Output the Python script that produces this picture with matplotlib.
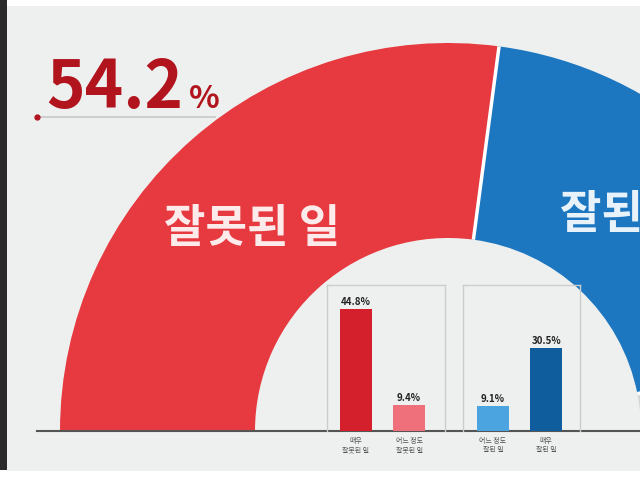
import numpy as np
import matplotlib
matplotlib.use("Agg")
import matplotlib.pyplot as plt
from matplotlib.patches import Wedge, Rectangle

plt.rcParams['font.family'] = ['Noto Sans CJK KR', 'DejaVu Sans']

# data
mainLabels = ["잘못된 일", "잘된 일", "모름"]
mainValues = [54.2, 39.6, 6.2]
mainColors = ["#e63a40", "#1d77c0", "#d4d6d5"]

badLabels = ["매우\n잘못된 일", "어느 정도\n잘못된 일"]
badValues = [44.8, 9.4]
badColors = ["#d41f2c", "#ef6f7b"]

goodLabels = ["어느 정도\n잘된 일", "매우\n잘된 일"]
goodValues = [9.1, 30.5]
goodColors = ["#4ba4df", "#0f5d9c"]

W, H = 640, 480
fig = plt.figure(figsize=(6.4, 4.8), dpi=100)
fig.patch.set_facecolor("white")

ax = fig.add_axes([0, 0, 1, 1])
ax.set_xlim(0, W)
ax.set_ylim(0, H)
ax.set_aspect("equal")
ax.axis("off")

# page background and left dark border
ax.add_patch(Rectangle((7, 9), W - 7, H - 15, facecolor="#eef0ef", edgecolor="none", zorder=0))
ax.add_patch(Rectangle((0, 10), 7, H - 10, facecolor="#2a2a2a", edgecolor="none", zorder=0))

# half donut
center = (448, 49)
outerR = 388
innerR = 193
angle = 180.0
for value, color in zip(mainValues, mainColors):
    span = value / 100 * 180
    ax.add_patch(Wedge(center, outerR, angle - span, angle, width=outerR - innerR,
                       facecolor=color, edgecolor="none", zorder=1))
    angle -= span

# white gaps between segments
angle = 180.0
for value in mainValues[:-1]:
    angle -= value / 100 * 180
    t = np.radians(angle)
    ax.plot([center[0] + innerR * np.cos(t), center[0] + outerR * np.cos(t)],
            [center[1] + innerR * np.sin(t), center[1] + outerR * np.sin(t)],
            color="white", lw=2.5, zorder=2, solid_capstyle="butt")

# baseline
ax.plot([37, W], [49, 49], color="#555555", lw=1.5, zorder=3)

# segment labels
ax.text(252, 251, mainLabels[0], color="#fdeaea", fontsize=32.5, fontweight="bold",
        ha="center", va="center", zorder=4)
ax.text(560, 265, mainLabels[1], color="#e8f2fb", fontsize=32.5, fontweight="bold",
        ha="left", va="center", zorder=4)

# big percentage
ax.text(46, 372, "%.1f" % mainValues[0], color="#b2141e", fontsize=47, fontweight="bold",
        ha="left", va="baseline", zorder=4)
ax.text(189, 372, "%", color="#b2141e", fontsize=23, fontweight="bold",
        ha="left", va="baseline", zorder=4)
ax.plot([37, 215], [363, 363], color="#c8c8c8", lw=1.2, zorder=3)
ax.plot([37], [363], "o", color="#b2141e", ms=3.5, zorder=4)

# small bar charts
pxPerPct = 2.72
boxH = 146


def barBox(left, width, labels, values, colors, x0):
    bx = fig.add_axes([left / W, 49 / H, width / W, boxH / H])
    bx.patch.set_alpha(0)
    bx.bar(range(len(values)), values, width=0.6, color=colors, zorder=2)
    bx.set_ylim(0, boxH / pxPerPct)
    bx.set_xlim(x0, x0 + width / 53.3)
    for i, v in enumerate(values):
        bx.text(i, v + 0.8, "%.1f%%" % v, ha="center", va="bottom",
                fontsize=7, fontweight="bold", color="#222222")
    bx.set_yticks([])
    bx.set_xticks(range(len(values)))
    bx.set_xticklabels(labels, fontsize=5, color="#555555", linespacing=1.3)
    bx.tick_params(axis="x", length=0, pad=4)
    for side in ["top", "left", "right"]:
        bx.spines[side].set_color("#cccccc")
        bx.spines[side].set_linewidth(1)
    bx.spines["bottom"].set_visible(False)
    return bx


barBox(327, 118, badLabels, badValues, badColors, -0.54)
barBox(463, 117, goodLabels, goodValues, goodColors, -0.56)

fig.savefig("out.png", dpi=100, facecolor=fig.get_facecolor())
